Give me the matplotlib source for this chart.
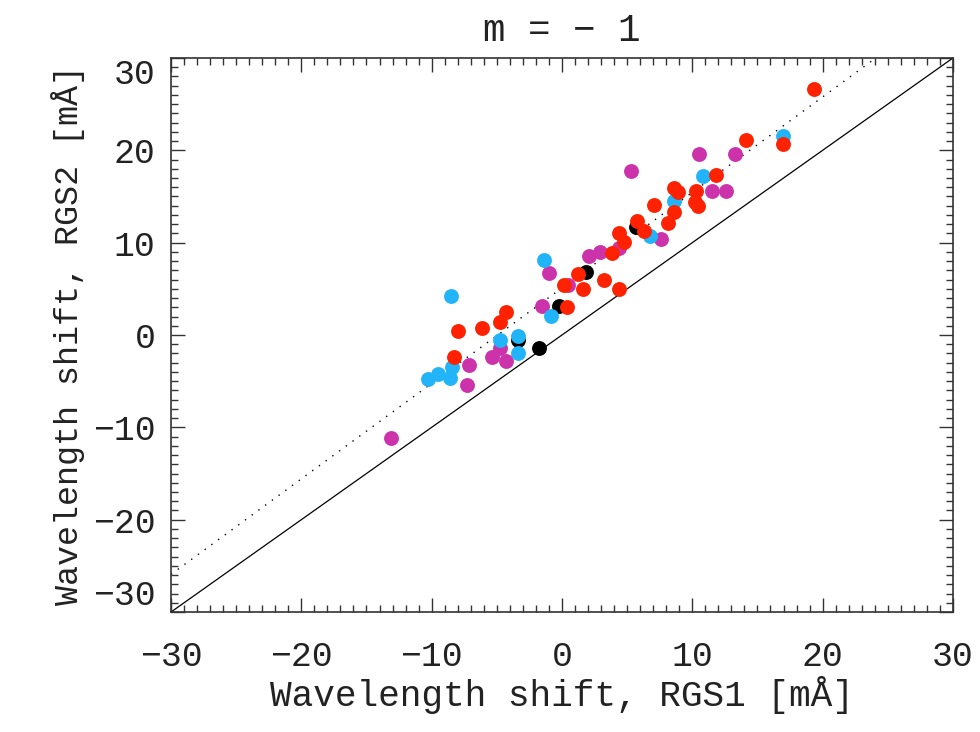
import numpy as np
import matplotlib
matplotlib.use("Agg")
import matplotlib.pyplot as plt
from matplotlib.ticker import MultipleLocator

# wavelength shifts [mA], RGS1 (x) vs RGS2 (y), grouped by colour
black_x = [-3.37, -1.78, -0.22, 1.88, 5.71]
black_y = [-0.54, -1.40, 3.16, 6.83, 11.73]

magenta_x = [-13.15, -7.28, -7.15, -5.36, -4.77, -4.31, -1.53, -1.01, 0.47,
             2.06, 2.90, 4.38, 5.33, 7.63, 10.51, 11.54, 12.56, 13.30]
magenta_y = [-11.15, -5.39, -3.24, -2.41, -1.44, -2.84, 3.16, 6.69, 5.39,
             8.55, 9.03, 9.46, 17.80, 10.36, 19.63, 15.57, 15.57, 19.63]

cyan_x = [-10.31, -9.50, -8.60, -8.47, -8.53, -4.77, -3.37, -3.37, -1.37,
          -0.88, 6.73, 8.60, 10.82, 16.96]
cyan_y = [-4.75, -4.21, -4.67, -3.49, 4.24, -0.54, -0.07, -1.98, 8.09,
          2.02, 10.71, 14.56, 17.26, 21.58]

red_x = [-8.30, -8.01, -6.17, -4.77, -4.33, 0.35, 0.16, 1.24, 1.62, 3.21,
         3.80, 4.38, 4.38, 4.74, 5.76, 6.30, 7.04, 8.14, 8.60, 8.60, 8.90,
         10.18, 10.26, 10.44, 11.85, 14.09, 16.96, 19.33]
red_y = [-2.41, 0.46, 0.72, 1.44, 2.45, 2.98, 5.39, 6.65, 4.96, 5.97,
         8.85, 4.96, 11.08, 10.07, 12.33, 11.25, 14.13, 12.08, 13.30, 15.93,
         15.46, 14.38, 15.57, 14.02, 17.37, 21.14, 20.68, 26.61]

# dotted fit line y = slope * x + offset
fit_slope = 1.034
fit_offset = 5.1

lim = [-30, 30]
major_ticks = [-30, -20, -10, 0, 10, 20, 30]
font = ["Liberation Mono", "DejaVu Sans Mono"]
txt = "#222222"

fig = plt.figure(figsize=(9.8, 7.32), dpi=100)
ax = fig.add_axes([0.1745, 0.1639, 0.9724 - 0.1745, 0.9208 - 0.1639])

xx = np.array(lim)
ax.plot(xx, xx, color="black", linewidth=0.9)
ax.plot(xx, fit_slope * xx + fit_offset, color="black", linewidth=1.0,
        linestyle=(0, (1, 5)))

ms = 115
ax.scatter(black_x, black_y, s=ms, color="black", linewidths=0, zorder=3)
ax.scatter(magenta_x, magenta_y, s=ms, color="#cc33aa", linewidths=0, zorder=4)
ax.scatter(cyan_x, cyan_y, s=ms, color="#22b4f8", linewidths=0, zorder=5)
ax.scatter(red_x, red_y, s=ms, color="#ff2200", linewidths=0, zorder=6)

ax.set_xlim(lim)
ax.set_ylim(lim)
ax.set_xticks(major_ticks)
ax.set_yticks(major_ticks)
ax.xaxis.set_minor_locator(MultipleLocator(1))
ax.yaxis.set_minor_locator(MultipleLocator(1))
ax.tick_params(which="both", direction="in", top=True, right=True,
               width=1.0, color="#333333")
ax.tick_params(which="major", length=10)
ax.tick_params(which="minor", length=5)
ax.tick_params(axis="x", which="major", pad=20, labelsize=25)
ax.tick_params(axis="y", which="major", pad=11, labelsize=25)
for sp in ax.spines.values():
    sp.set_linewidth(1.2)
    sp.set_color("#333333")

ax.set_xlabel("Wavelength shift, RGS1 [mÅ]", family=font, fontsize=26,
              color=txt, labelpad=2)
ax.set_ylabel("Wavelength shift, RGS2 [mÅ]", family=font, fontsize=24,
              color=txt, labelpad=6)
ax.set_title("m = − 1", family=font, fontsize=27, color=txt, pad=12)

fig.canvas.draw()
for lab in ax.get_xticklabels() + ax.get_yticklabels():
    lab.set_family(font)
    lab.set_color(txt)

# keep end labels inside the axis range, like the original
for tick in ax.yaxis.get_major_ticks():
    if tick.get_loc() == lim[0]:
        tick.label1.set_va("bottom")
    elif tick.get_loc() == lim[1]:
        tick.label1.set_va("top")

plt.savefig("out.png", dpi=100)
